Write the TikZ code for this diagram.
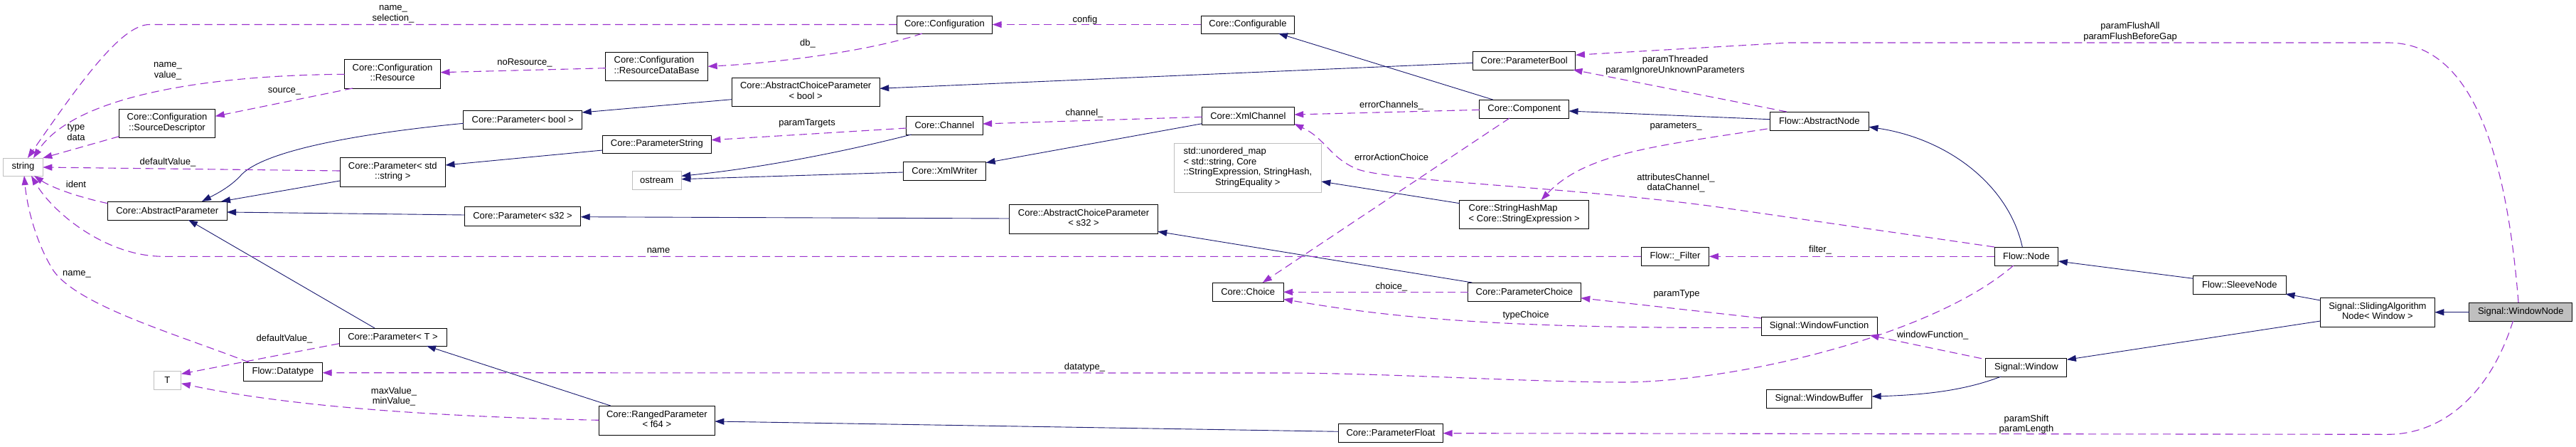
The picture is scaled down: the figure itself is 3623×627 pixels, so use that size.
\documentclass[tikz,border=0pt]{standalone}
\usepackage{fontspec}
\setmainfont{Liberation Sans}
\usetikzlibrary{arrows.meta,calc}
\definecolor{navy}{RGB}{25,25,112}
\definecolor{orchid}{RGB}{154,50,205}
\definecolor{graybd}{RGB}{191,191,191}
\definecolor{grayfill}{RGB}{191,191,191}
\newcommand\fs{\fontsize{13}{14.5}\selectfont}
\newcommand\twol[2]{\begin{tabular}{@{}l@{}}#1\\\multicolumn{1}{@{}c@{}}{#2}\end{tabular}}
\newcommand\fourl[4]{\begin{tabular}{@{}l@{}}#1\\#2\\#3\\\multicolumn{1}{@{}c@{}}{#4}\end{tabular}}
\tikzset{
  cls/.style={draw=black, line width=0.9pt, fill=white, inner sep=0pt, font=\fs},
  ext/.style={cls, draw=graybd},
  inh/.style={draw=navy, line width=0.9pt, -{Triangle[length=13pt,width=9pt]}},
  use/.style={draw=orchid, line width=1.1pt, dash pattern=on 11pt off 6.5pt, -{Triangle[length=13pt,width=9pt]}},
  lbl/.style={font=\fs, align=center, inner sep=0pt, text=black}
}
\begin{document}
\begin{tikzpicture}[x=1pt,y=-1pt]
\fill[white] (0,0) rectangle (3623,627);
\useasboundingbox (0,0) rectangle (3623,627);
% nodes
\node[ext,minimum width=55.6pt,minimum height=25pt] (string) at (32.5,234.5) {string};
\node[cls,minimum width=134.8pt,minimum height=41pt] (resource) at (552.1,103.5) {\twol{Core::Configuration}{::Resource}};
\node[cls,minimum width=135.4pt,minimum height=40pt] (srcdesc) at (235,173) {\twol{Core::Configuration}{::SourceDescriptor}};
\node[cls,minimum width=148.4pt,minimum height=41pt] (pstdstr) at (552.3,241.5) {\twol{Core::Parameter< std}{::string >}};
\node[cls,minimum width=167.7pt,minimum height=26pt] (absparam) at (235.2,296) {Core::AbstractParameter};
\node[ext,minimum width=38.9pt,minimum height=26pt] (T) at (235.4,534) {T};
\node[cls,minimum width=111.3pt,minimum height=26pt] (datatype) at (398,522) {Flow::Datatype};
\node[cls,minimum width=151pt,minimum height=25pt] (paramT) at (552.5,473.5) {Core::Parameter< T >};
\node[cls,minimum width=143.9pt,minimum height=40pt] (resdb) at (923.7,93) {\twol{Core::Configuration}{::ResourceDataBase}};
\node[cls,minimum width=208.2pt,minimum height=40pt] (acpbool) at (1133.2,129) {\twol{Core::AbstractChoiceParameter}{< bool >}};
\node[cls,minimum width=166.9pt,minimum height=26pt] (pbool) at (735.2,168) {Core::Parameter< bool >};
\node[cls,minimum width=152.9pt,minimum height=25pt] (pstring) at (923.9,202.5) {Core::ParameterString};
\node[ext,minimum width=69.3pt,minimum height=26pt] (ostream) at (923.7,253) {ostream};
\node[cls,minimum width=163.4pt,minimum height=27pt] (ps32) at (735,303.5) {Core::Parameter< s32 >};
\node[cls,minimum width=163pt,minimum height=41pt] (ranged) at (923.9,590.5) {\twol{Core::RangedParameter}{< f64 >}};
\node[cls,minimum width=134.6pt,minimum height=25pt] (config) at (1328.4,34.5) {Core::Configuration};
\node[cls,minimum width=131.2pt,minimum height=25pt] (configurable) at (1755,34.5) {Core::Configurable};
\node[cls,minimum width=107.4pt,minimum height=26pt] (channel) at (1328.4,176) {Core::Channel};
\node[cls,minimum width=116.3pt,minimum height=26pt] (xmlwriter) at (1328.5,240) {Core::XmlWriter};
\node[cls,minimum width=129.6pt,minimum height=25pt] (xmlchannel) at (1755.4,162.5) {Core::XmlChannel};
\node[ext,minimum width=207.1pt,minimum height=69pt] (umap) at (1754.8,235.5) {\fourl{std::unordered\_map}{< std::string, Core}{::StringExpression, StringHash,}{StringEquality >}};
\node[cls,minimum width=208.5pt,minimum height=41pt] (acps32) at (1524,307.5) {\twol{Core::AbstractChoiceParameter}{< s32 >}};
\node[cls,minimum width=99.6pt,minimum height=26pt] (choice) at (1755.2,410) {Core::Choice};
\node[cls,minimum width=144.4pt,minimum height=26pt] (parambool) at (2143.7,85) {Core::ParameterBool};
\node[cls,minimum width=125.6pt,minimum height=26pt] (component) at (2143.7,153) {Core::Component};
\node[cls,minimum width=181.6pt,minimum height=40pt] (shm) at (2143.7,301) {\twol{Core::StringHashMap}{< Core::StringExpression >}};
\node[cls,minimum width=95.7pt,minimum height=26pt] (filter) at (2356,360) {Flow::\_Filter};
\node[cls,minimum width=158.8pt,minimum height=26pt] (pchoice) at (2143.9,410) {Core::ParameterChoice};
\node[cls,minimum width=147pt,minimum height=26pt] (pfloat) at (1956,608) {Core::ParameterFloat};
\node[cls,minimum width=139.3pt,minimum height=26pt] (absnode) at (2558.8,170) {Flow::AbstractNode};
\node[cls,minimum width=89.8pt,minimum height=26pt] (flownode) at (2849.9,360) {Flow::Node};
\node[cls,minimum width=163pt,minimum height=26pt] (winfunc) at (2558.5,458) {Signal::WindowFunction};
\node[cls,minimum width=114pt,minimum height=26pt] (window) at (2849.9,516) {Signal::Window};
\node[cls,minimum width=148.2pt,minimum height=26pt] (winbuf) at (2558.5,560) {Signal::WindowBuffer};
\node[cls,minimum width=130.3pt,minimum height=26pt] (sleeve) at (3149.8,400) {Flow::SleeveNode};
\node[cls,minimum width=160.9pt,minimum height=41pt] (sliding) at (3343.9,438.5) {\twol{Signal::SlidingAlgorithm}{Node< Window >}};
\node[cls,minimum width=145pt,minimum height=26pt,fill=grayfill] (winnode) at (3545.3,438) {Signal::WindowNode};
% inheritance
\draw[inh] ($(pbool.center)+(-83.45,5.3)$) .. controls (480,190) and (370,215) .. (340,245) .. controls (325,262) and (305,272) .. ($(absparam.center)+(48.8,-13)$);
\draw[inh] ($(pstdstr.center)+(-74.2,12.5)$) -- ($(absparam.center)+(75.8,-13)$);
\draw[inh] ($(ps32.center)+(-81.7,-1.5)$) -- ($(absparam.center)+(83.85,2)$);
\draw[inh] ($(paramT.center)+(-25.5,-12.5)$) -- ($(absparam.center)+(29.8,13)$);
\draw[inh] ($(acpbool.center)+(-104.1,10.7)$) -- ($(pbool.center)+(83.45,-10)$);
\draw[inh] ($(pstring.center)+(-76.45,8.5)$) -- ($(pstdstr.center)+(74.2,-9.5)$);
\draw[inh] ($(xmlchannel.center)+(-64.8,11.2)$) -- ($(xmlwriter.center)+(58.15,-11.3)$);
\draw[inh] ($(channel.center)+(-46.7,13)$) .. controls (1200,210) and (1080,235) .. ($(ostream.center)+(34.65,-5.7)$);
\draw[inh] ($(xmlwriter.center)+(-58.15,2)$) -- ($(ostream.center)+(34.65,-1.3)$);
\draw[inh] ($(acps32.center)+(-104.25,-0.5)$) -- ($(ps32.center)+(81.7,1.2)$);
\draw[inh] ($(pchoice.center)+(-73.5,-13)$) -- ($(acps32.center)+(104.25,17.8)$);
\draw[inh] ($(parambool.center)+(-72.2,3.3)$) -- ($(acpbool.center)+(104.1,-4.7)$);
\draw[inh] ($(component.center)+(-44.1,-13)$) -- ($(configurable.center)+(43,12.5)$);
\draw[inh] ($(absnode.center)+(-69.65,-2.3)$) -- ($(component.center)+(62.8,3)$);
\draw[inh] ($(shm.center)+(-90.8,-15.3)$) -- ($(umap.center)+(103.55,19.5)$);
\draw[inh] ($(flownode.center)+(-5.6,-13)$) .. controls (2825,260) and (2740,195) .. ($(absnode.center)+(69.65,8.3)$);
\draw[inh] ($(sleeve.center)+(-65.15,-8.7)$) -- ($(flownode.center)+(44.9,7)$);
\draw[inh] ($(sliding.center)+(-80.45,-16.5)$) -- ($(sleeve.center)+(64.7,13)$);
\draw[inh] ($(sliding.center)+(-80.45,12.5)$) -- ($(window.center)+(57,-10.7)$);
\draw[inh] ($(winnode.center)+(-72.5,0.7)$) -- ($(sliding.center)+(80.45,0.2)$);
\draw[inh] ($(window.center)+(-35.6,13)$) .. controls (2760,550) and (2700,555) .. ($(winbuf.center)+(74.1,-3)$);
\draw[inh] ($(ranged.center)+(-65.2,-20.5)$) -- ($(paramT.center)+(47.5,12.5)$);
\draw[inh] ($(pfloat.center)+(-73.5,-1.7)$) -- ($(ranged.center)+(81.5,1.5)$);
% usage
\draw[use] ($(config.center)+(-67.3,0)$) -- (210,34.5) .. controls (170,34.5) and (110,120) .. ($(string.center)+(6.4,-12.5)$);
\draw[use] ($(resource.center)+(-67.4,0.8)$) .. controls (270,106) and (100,140) .. ($(string.center)+(14.5,-12.5)$);
\draw[use] ($(resource.center)+(-56.1,20.5)$) -- ($(srcdesc.center)+(67.7,-9.7)$);
\draw[use] ($(srcdesc.center)+(-67.7,18.7)$) -- ($(string.center)+(27.8,-12.5)$);
\draw[use] ($(pstdstr.center)+(-74.2,-1.5)$) -- ($(string.center)+(27.8,0.5)$);
\draw[use] ($(absparam.center)+(-83.85,-10.3)$) .. controls (115,278) and (75,265) .. ($(string.center)+(15.5,12.5)$);
\draw[use] ($(filter.center)+(-47.85,0.3)$) -- (230,360.3) .. controls (150,360.3) and (75,300) .. ($(string.center)+(11.5,12.5)$);
\draw[use] ($(datatype.center)+(-48,-13)$) .. controls (250,470) and (110,430) .. (75,380) .. controls (50,340) and (38,290) .. ($(string.center)+(1.5,12.5)$);
\draw[use] ($(paramT.center)+(-75.5,9.2)$) -- ($(T.center)+(19.45,-8.7)$);
\draw[use] ($(ranged.center)+(-81.5,-0.2)$) .. controls (600,585) and (400,570) .. ($(T.center)+(19.45,4.7)$);
\draw[use] ($(resdb.center)+(-71.95,2.7)$) -- ($(resource.center)+(67.4,-1.8)$);
\draw[use] ($(config.center)+(-31.4,12.5)$) .. controls (1230,70) and (1100,88) .. ($(resdb.center)+(71.95,0.3)$);
\draw[use] ($(configurable.center)+(-65.6,0)$) -- ($(config.center)+(67.3,0)$);
\draw[use] ($(channel.center)+(-53.7,4)$) -- ($(pstring.center)+(76.45,-5.8)$);
\draw[use] ($(xmlchannel.center)+(-64.8,1.8)$) -- ($(channel.center)+(53.7,-2)$);
\draw[use] ($(component.center)+(-62.8,1.3)$) -- ($(xmlchannel.center)+(64.8,-1.5)$);
\draw[use] ($(component.center)+(-20.7,13)$) -- ($(choice.center)+(20.6,-13)$);
\draw[use] ($(flownode.center)+(-44.9,-13)$) -- (2410,290) .. controls (2200,262) and (1960,255) .. (1910,238) .. controls (1870,222) and (1865,195) .. ($(xmlchannel.center)+(64.8,11.5)$);
\draw[use] ($(absnode.center)+(-46,-13)$) -- ($(parambool.center)+(68.8,13)$);
\draw[use] ($(winnode.center)+(-3.3,-13)$) .. controls (3520,150) and (3450,60) .. (3358,60) -- (2516,60) -- ($(parambool.center)+(72.2,-7.7)$);
\draw[use] ($(absnode.center)+(-73.2,11)$) .. controls (2330,205) and (2230,215) .. ($(shm.center)+(23.9,-20)$);
\draw[use] ($(pchoice.center)+(-79.4,0.3)$) -- ($(choice.center)+(49.8,0.3)$);
\draw[use] ($(winfunc.center)+(-81.5,2.3)$) .. controls (2100,462) and (1950,445) .. ($(choice.center)+(49.8,10.3)$);
\draw[use] ($(window.center)+(-62.9,-12.3)$) -- ($(winfunc.center)+(71,13)$);
\draw[use] ($(flownode.center)+(-18.1,13)$) .. controls (2720,470) and (2450,535) .. (2286,537) .. controls (2150,537) and (1950,524) .. (1800,524) -- ($(datatype.center)+(55.65,1.7)$);
\draw[use] ($(flownode.center)+(-44.9,0.3)$) -- ($(filter.center)+(47.85,0.3)$);
\draw[use] ($(winfunc.center)+(-81.5,-11)$) -- ($(pchoice.center)+(79.4,8.7)$);
\draw[use] ($(winnode.center)+(-10.9,13)$) .. controls (3500,560) and (3430,610.3) .. (3358,610.3) -- ($(pfloat.center)+(73.5,0.7)$);
% labels
\node[lbl] (l1) at (553,20) {name\_\\selection\_};
\node[lbl] (l2) at (236,100) {name\_\\value\_};
\node[lbl] (l3) at (400,128) {source\_};
\node[lbl] (l4) at (107,186) {type\\data};
\node[lbl] (l5) at (236,228) {defaultValue\_};
\node[lbl] (l6) at (107,259) {ident};
\node[lbl] (l7) at (926,352) {name};
\node[lbl] (l8) at (108,385) {name\_};
\node[lbl] (l9) at (400,476) {defaultValue\_};
\node[lbl] (l10) at (554,557) {maxValue\_\\minValue\_};
\node[lbl] (l11) at (738,88) {noResource\_};
\node[lbl] (l12) at (1136,61) {db\_};
\node[lbl] (l13) at (1526,28) {config};
\node[lbl] (l14) at (1135,173) {paramTargets};
\node[lbl] (l15) at (1525,159) {channel\_};
\node[lbl] (l16) at (1957,148) {errorChannels\_};
\node[lbl] (l17) at (1957,221) {errorActionChoice};
\node[lbl] (l18) at (2357,257) {attributesChannel\_\\dataChannel\_};
\node[lbl] (l19) at (2356,91.5) {paramThreaded\\paramIgnoreUnknownParameters};
\node[lbl] (l20) at (2996,44.5) {paramFlushAll\\paramFlushBeforeGap};
\node[lbl] (l21) at (2357,177.5) {parameters\_};
\node[lbl] (l22) at (1957,403) {choice\_};
\node[lbl] (l23) at (2146,443) {typeChoice};
\node[lbl] (l24) at (2718,471.5) {windowFunction\_};
\node[lbl] (l25) at (1525.5,516) {datatype\_};
\node[lbl] (l26) at (2560,351) {filter\_};
\node[lbl] (l27) at (2358,413) {paramType};
\node[lbl] (l28) at (2850,596) {paramShift\\paramLength};
\end{tikzpicture}
\end{document}
